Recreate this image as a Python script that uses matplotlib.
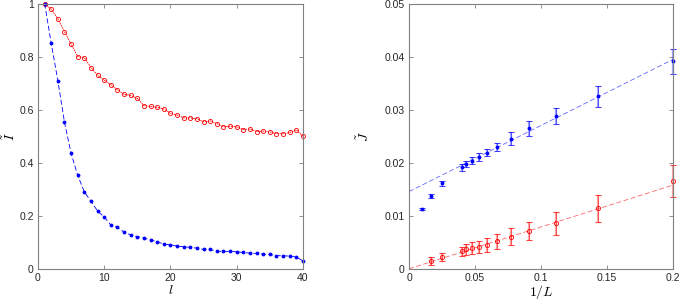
import numpy as np
import matplotlib
matplotlib.use("Agg")
import matplotlib.pyplot as plt

plt.rcParams["font.family"] = ["Liberation Sans", "DejaVu Sans"]
plt.rcParams["mathtext.fontset"] = "cm"

# left panel: I~ versus l
l = np.arange(1, 41)
I_red = [1.0, 0.979, 0.9425, 0.894, 0.8475, 0.80, 0.796, 0.759, 0.73, 0.711,
         0.694, 0.675, 0.6575, 0.654, 0.6425, 0.615, 0.6125, 0.609, 0.6025, 0.586,
         0.58, 0.569, 0.569, 0.566, 0.554, 0.5575, 0.5475, 0.535, 0.5375, 0.535,
         0.525, 0.5275, 0.5175, 0.519, 0.516, 0.51, 0.509, 0.514, 0.524, 0.50]
I_blue = [1.0, 0.85, 0.709, 0.5525, 0.435, 0.352, 0.29, 0.254, 0.218, 0.195,
          0.165, 0.156, 0.138, 0.128, 0.121, 0.116, 0.109, 0.102, 0.093, 0.0906,
          0.0855, 0.083, 0.0805, 0.078, 0.073, 0.073, 0.0667, 0.0654, 0.0654, 0.064,
          0.0616, 0.059, 0.058, 0.055, 0.054, 0.050, 0.049, 0.048, 0.044, 0.030]

# right panel: J~ versus 1/L
L_blue = [100, 60, 40, 25, 23, 21, 19, 17, 15, 13, 11, 9, 7, 5]
J_blue = [0.01132, 0.01371, 0.0161, 0.0191, 0.01975, 0.0204, 0.0211, 0.0219,
          0.0230, 0.0245, 0.02646, 0.02886, 0.03253, 0.03911]
J_blue_err = [0.0002, 0.0003, 0.0004, 0.0006, 0.0006, 0.0006, 0.0007, 0.0007,
              0.0008, 0.0012, 0.00136, 0.0015, 0.002, 0.0024]
L_red = [60, 40, 25, 23, 21, 19, 17, 15, 13, 11, 9, 7, 5]
J_red = [0.00145, 0.0022, 0.00327, 0.00365, 0.0039, 0.0041, 0.00447, 0.0052,
         0.006, 0.00705, 0.00855, 0.01138, 0.01648]
J_red_err = [0.0007, 0.0007, 0.0009, 0.001, 0.0011, 0.0011, 0.0013, 0.0014,
             0.0016, 0.0017, 0.0022, 0.0025, 0.003]
# linear fits (intercept, slope)
fit_blue = (0.01455, 0.1248)
fit_red = (0.0, 0.079)

fig = plt.figure(figsize=(6.81, 3.01), dpi=100)
ax1 = fig.add_axes([0.0558, 0.107, 0.389, 0.881])
ax2 = fig.add_axes([0.6006, 0.107, 0.388, 0.881])

ax1.plot(l, I_red, "o--", color="red", mfc="none", ms=3, lw=0.6, mew=0.6,
         dashes=(2, 1), clip_on=False)
ax1.plot(l, I_blue, ".--", color="blue", ms=3.5, lw=0.6, dashes=(6, 3), clip_on=False)
ax1.set_xlim(0, 40)
ax1.set_ylim(0, 1)
ax1.set_xticks([0, 10, 20, 30, 40])
ax1.set_yticks([0, 0.2, 0.4, 0.6, 0.8, 1])
ax1.set_yticklabels(["0", "0.2", "0.4", "0.6", "0.8", "1"])
ax1.set_xlabel(r"$l$", fontsize=10, labelpad=0)
ax1.set_ylabel(r"$\tilde{I}$", fontsize=10)
ax1.yaxis.set_label_coords(-0.075, 0.5)

xs = np.array([0, 0.2])
ax2.plot(xs, fit_blue[0] + fit_blue[1] * xs, "--", color="blue", lw=0.6, alpha=0.6, dashes=(6, 3))
ax2.plot(xs, fit_red[0] + fit_red[1] * xs, "--", color="red", lw=0.6, alpha=0.6, dashes=(6, 3))
xb = 1 / np.array(L_blue, dtype=float)
xr = 1 / np.array(L_red, dtype=float)
for x, y, e, c in ((xb, J_blue, J_blue_err, "blue"), (xr, J_red, J_red_err, "red")):
    for a in ax2.errorbar(x, y, yerr=e, fmt="none", ecolor=c, elinewidth=1.6,
                          capsize=2.5, capthick=0.8, alpha=0.35).get_children():
        a.set_clip_on(False)
    for a in ax2.errorbar(x, y, yerr=e, fmt="none", ecolor=c, elinewidth=0.5,
                          capsize=2.5, capthick=0.6, alpha=0.7).get_children():
        a.set_clip_on(False)
ax2.plot(xb, J_blue, ".", color="blue", ms=3.5, clip_on=False)
ax2.plot(xr, J_red, "o", color="red", mfc="none", ms=3, mew=0.6, clip_on=False)
ax2.set_xlim(0, 0.2)
ax2.set_ylim(0, 0.05)
ax2.set_xticks([0, 0.05, 0.1, 0.15, 0.2])
ax2.set_xticklabels(["0", "0.05", "0.1", "0.15", "0.2"])
ax2.set_yticks([0, 0.01, 0.02, 0.03, 0.04, 0.05])
ax2.set_yticklabels(["0", "0.01", "0.02", "0.03", "0.04", "0.05"])
ax2.set_xlabel(r"$1/L$", fontsize=10, labelpad=0)
ax2.set_ylabel(r"$\tilde{J}$", fontsize=10)
ax2.yaxis.set_label_coords(-0.14, 0.5)

for ax in (ax1, ax2):
    for s in ax.spines.values():
        s.set_color("#808080")
        s.set_linewidth(0.8)
    ax.tick_params(direction="in", top=True, right=True, length=3, width=0.6,
                   color="#808080", labelsize=7.5, labelcolor="#262626", pad=3)

fig.savefig("out.png", dpi=100)
